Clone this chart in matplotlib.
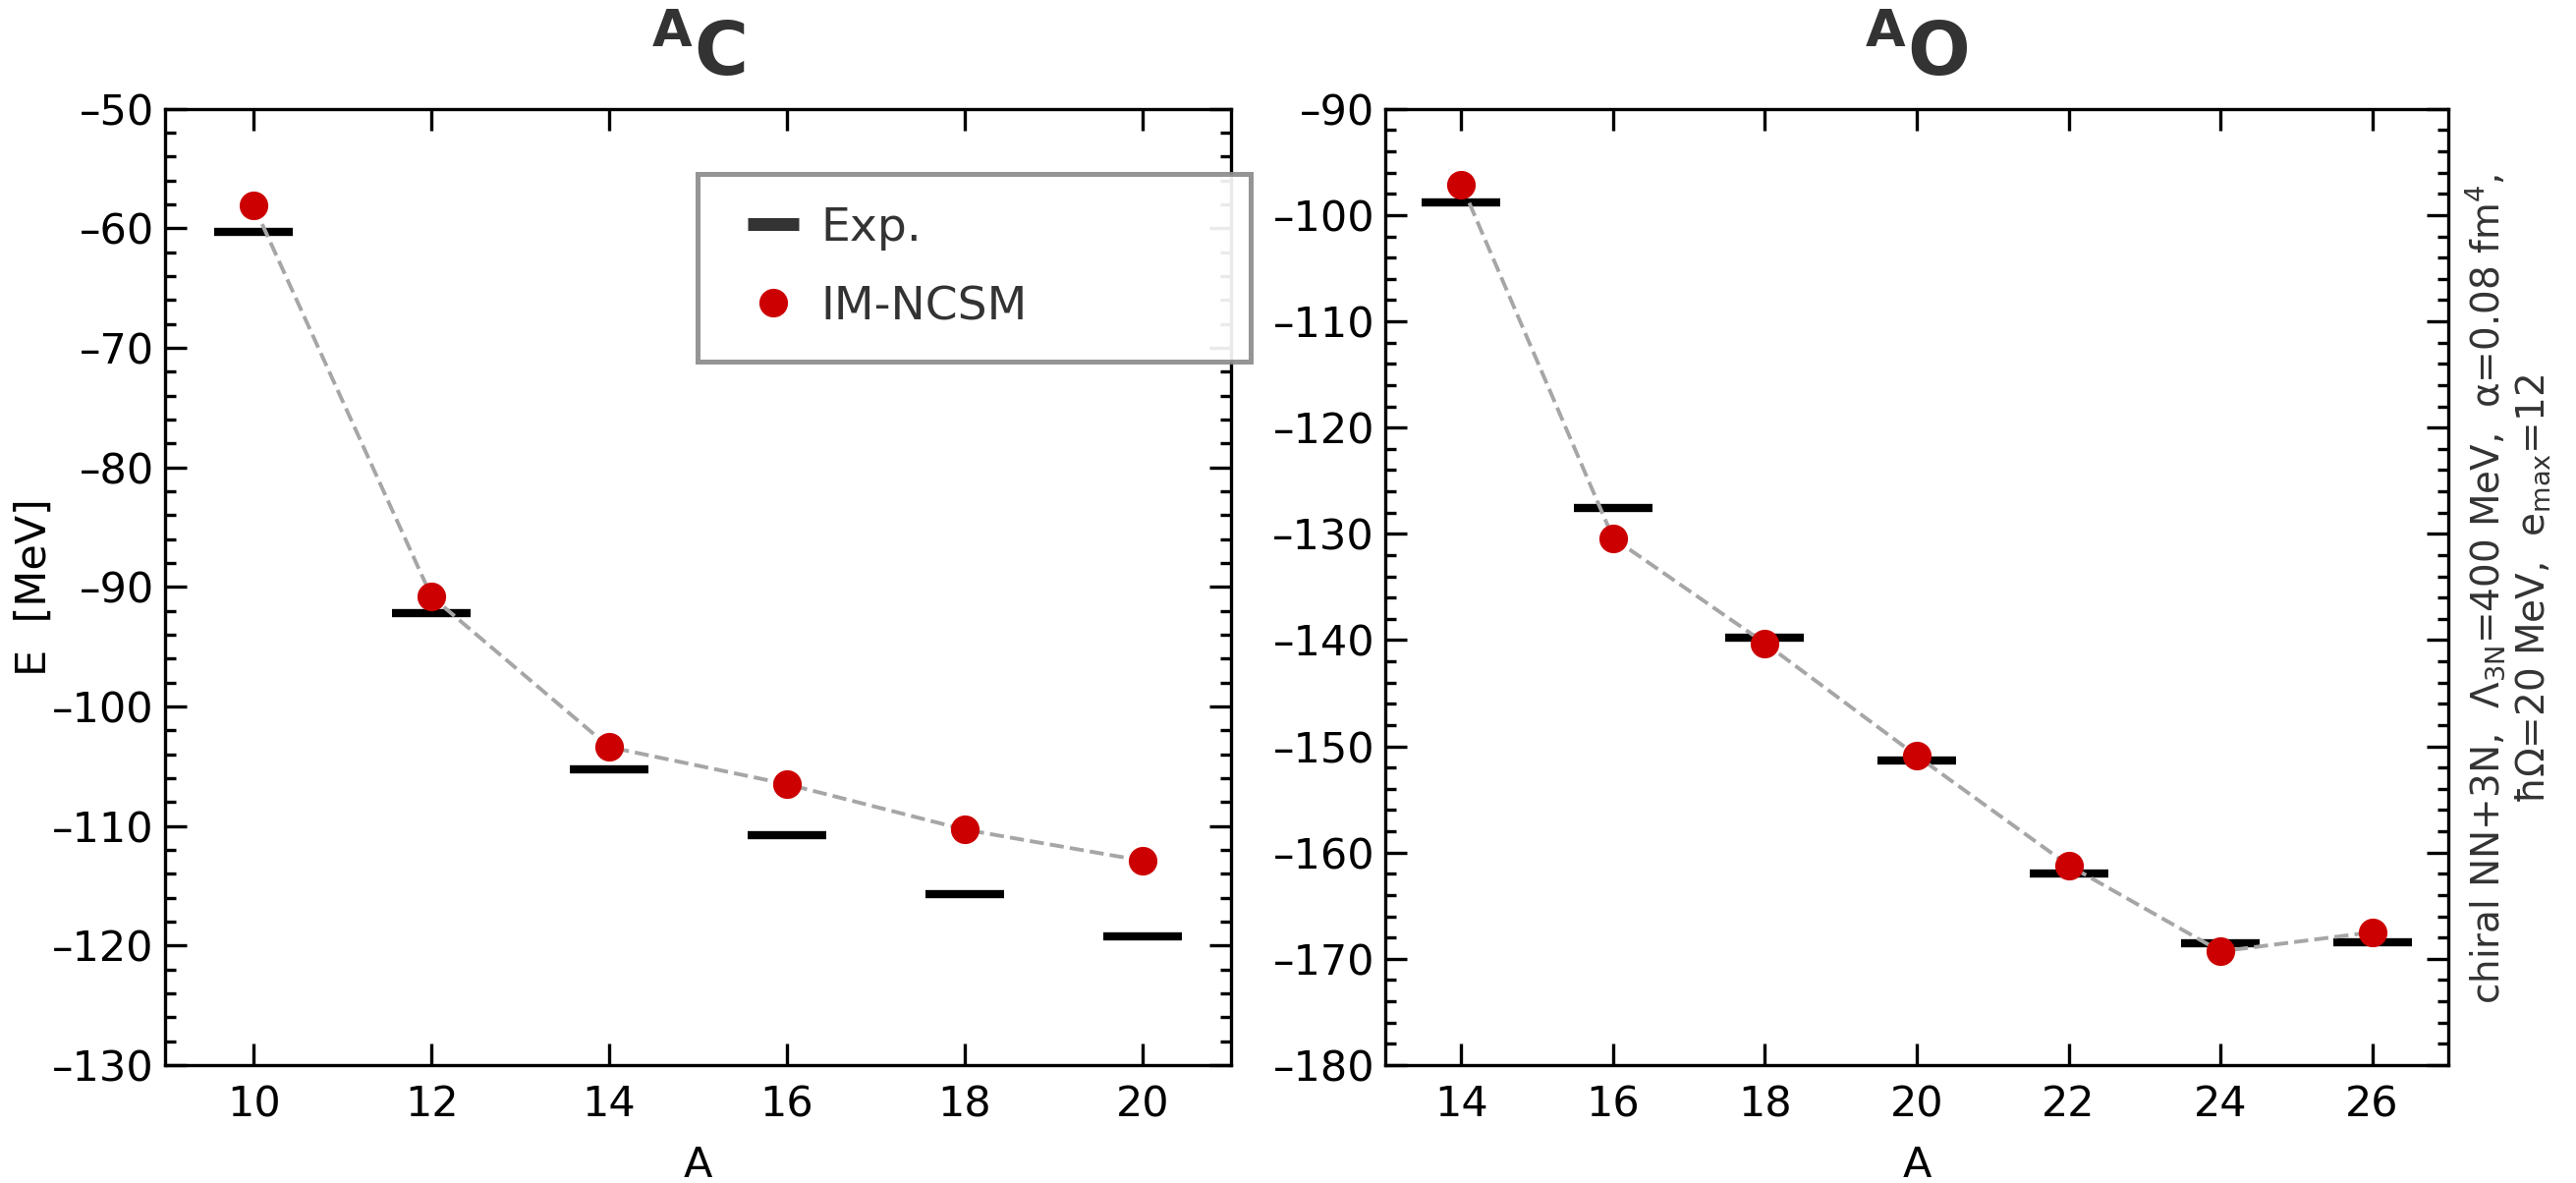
import matplotlib

matplotlib.use("Agg")

import matplotlib.pyplot as plt  # noqa: E402
from matplotlib.lines import Line2D  # noqa: E402
from matplotlib.ticker import FuncFormatter, MultipleLocator  # noqa: E402

# carbon isotopes
A_C = [10, 12, 14, 16, 18, 20]
E_C_exp = [-60.3, -92.2, -105.3, -110.8, -115.7, -119.2]
E_C_th = [-58.1, -90.8, -103.4, -106.5, -110.3, -112.9]

# oxygen isotopes
A_O = [14, 16, 18, 20, 22, 24, 26]
E_O_exp = [-98.8, -127.6, -139.8, -151.3, -162.0, -168.5, -168.4]
E_O_th = [-97.1, -130.4, -140.3, -150.9, -161.2, -169.3, -167.5]

RED = "#cc0000"
DARK = "#333333"

plt.rcParams["font.family"] = ["DejaVu Sans"]
plt.rcParams["mathtext.fontset"] = "dejavusans"

fig = plt.figure(figsize=(13.11, 6.02), dpi=200)
ax1 = fig.add_axes([0.064, 0.0997, 0.414, 0.8083])
ax2 = fig.add_axes([0.5378, 0.0997, 0.4126, 0.8083])

# shorter dash for negative tick labels, as in the original
dash_fmt = FuncFormatter(lambda v, _: f"{v:g}".replace("-", "\u2013"))


def draw(ax, a, e_exp, e_th, title, xlim, ylim, xticks):
    ax.plot(a, e_exp, ls="none", marker="_", ms=29, mew=3, color="black", zorder=2)
    ax.plot(a, e_th, "--", color="#a6a6a6", lw=1.4, zorder=3)
    ax.plot(a, e_th, ls="none", marker="o", ms=10.5, color=RED, mec="none", zorder=4)
    ax.set_xlim(*xlim)
    ax.set_ylim(*ylim)
    ax.set_xticks(xticks)
    ax.yaxis.set_major_locator(MultipleLocator(10))
    ax.yaxis.set_minor_locator(MultipleLocator(2))
    ax.yaxis.set_major_formatter(dash_fmt)
    ax.tick_params(which="both", direction="in", top=True, right=True,
                   width=1.2, labelsize=15.5)
    ax.tick_params(which="major", length=8)
    ax.tick_params(which="minor", length=4)
    ax.tick_params(axis="x", pad=7)
    ax.tick_params(axis="y", pad=4)
    for sp in ax.spines.values():
        sp.set_linewidth(1.2)
    ax.set_xlabel("A", fontsize=15.5, labelpad=7)
    ax.set_title(title, fontsize=27, color=DARK, pad=12)


draw(ax1, A_C, E_C_exp, E_C_th, r"$^{\mathbf{A}}\mathbf{C}$",
     (9, 21), (-130, -50), A_C)
draw(ax2, A_O, E_O_exp, E_O_th, r"$^{\mathbf{A}}\mathbf{O}$",
     (13, 27), (-180, -90), A_O)

ax1.set_ylabel("E  [MeV]", fontsize=15.5)
ax1.yaxis.set_label_coords(-0.103, 0.5)

handles = [
    Line2D([], [], ls="none", marker="_", ms=18.4, mew=4.7, color=DARK),
    Line2D([], [], ls="none", marker="o", ms=10.5, color=RED, mec="none"),
]
leg = ax1.legend(handles, ["Exp.", "IM-NCSM"], loc="center",
                 bbox_to_anchor=(0.4995, 0.734, 0.5185, 0.2), mode="expand",
                 fontsize=17, labelcolor=DARK, fancybox=False, framealpha=0.92,
                 edgecolor="#8c8c8c", borderpad=0.7, labelspacing=0.75,
                 handlelength=1.85, handletextpad=0.1, numpoints=1,
                 borderaxespad=0)
leg.get_frame().set_linewidth(1.8)

fig.text(0.9735, 0.502,
         "chiral NN+3N,  $\\mathit{\\Lambda}_{\\mathrm{3N}}$=400 MeV,  "
         "α=0.08 fm$^4$,\nħΩ=20 MeV,  e$_{\\mathrm{max}}$=12",
         rotation=90, ha="center", va="center", multialignment="center",
         fontsize=14, color=DARK)

fig.savefig("out.png", dpi=200)
